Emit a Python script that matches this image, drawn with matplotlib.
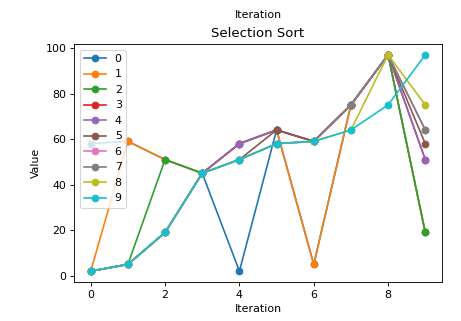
import matplotlib
matplotlib.use("Agg")
import matplotlib.pyplot as plt

iterations = [0, 1, 2, 3, 4, 5, 6, 7, 8, 9]
labels = ["0", "1", "2", "3", "4", "5", "6", "7", "8", "9"]
state0 = [58, 59, 51, 45, 2, 64, 5, 75, 97, 19]
state1 = [2, 59, 51, 45, 58, 64, 5, 75, 97, 19]
state2 = [2, 5, 51, 45, 58, 64, 59, 75, 97, 19]
state3 = [2, 5, 19, 45, 58, 64, 59, 75, 97, 51]
state4 = [2, 5, 19, 45, 58, 64, 59, 75, 97, 51]
state5 = [2, 5, 19, 45, 51, 64, 59, 75, 97, 58]
state6 = [2, 5, 19, 45, 51, 58, 59, 75, 97, 64]
state7 = [2, 5, 19, 45, 51, 58, 59, 75, 97, 64]
state8 = [2, 5, 19, 45, 51, 58, 59, 64, 97, 75]
state9 = [2, 5, 19, 45, 51, 58, 59, 64, 75, 97]
states = [state0, state1, state2, state3, state4, state5, state6, state7, state8, state9]

DPI = 79.2
W, H = 461, 321
fig = plt.figure(figsize=(W / DPI, H / DPI), dpi=DPI)
ax = fig.add_axes([74 / W, 1 - 282 / H, (442 - 74) / W, (282 - 44) / H])
for lab, s in zip(labels, states):
    ax.plot(iterations, s, marker="o", label=lab)
ax.set_title("Selection Sort")
ax.set_xlabel("Iteration")
ax.set_ylabel("Value")
ax.legend(loc="upper left")
fig.text(258 / W, 1 - 15 / H, "Iteration", ha="center", va="center", fontsize=10)
fig.savefig("out.png", dpi=DPI)
